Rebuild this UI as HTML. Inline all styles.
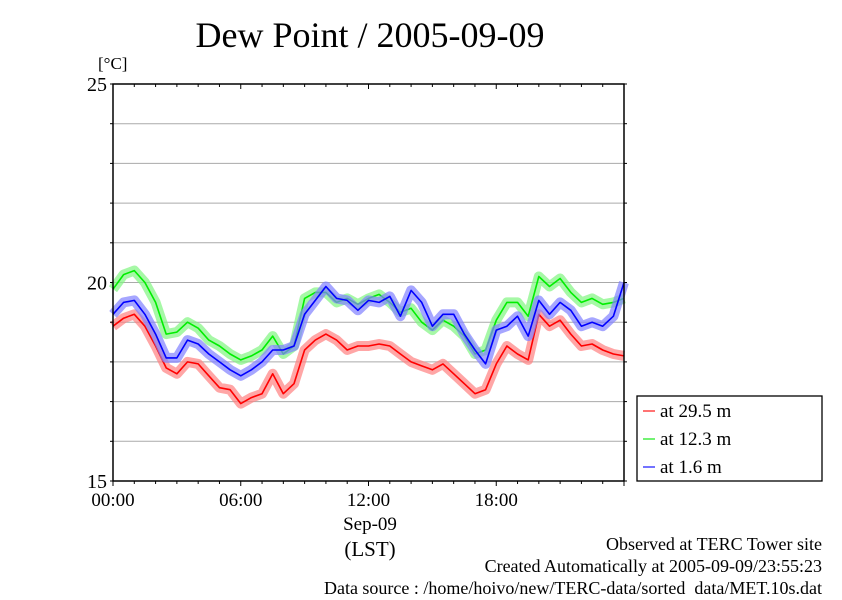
<!DOCTYPE html>
<html><head><meta charset="utf-8"><style>
body{margin:0;background:#fff}
svg text{font-family:"Liberation Serif",serif;fill:#000}
</style></head><body>
<svg id="c" width="842" height="595">
<text x="370" y="47" font-size="36" text-anchor="middle">Dew Point / 2005-09-09</text>
<text x="98" y="69" font-size="17">[°C]</text>
<g id="grid"></g><g id="series"></g><g id="axes"></g>
<text x="370" y="530" font-size="19" text-anchor="middle">Sep-09</text>
<text x="370" y="556" font-size="21" text-anchor="middle">(LST)</text>
<g>
<rect x="637" y="396" width="185" height="85" fill="#fff" stroke="#000" stroke-width="1.3"/>
<line x1="643" y1="411" x2="655" y2="411" stroke="#f44" stroke-width="1.5"/>
<text x="660" y="417" font-size="19">at 29.5 m</text>
<line x1="643" y1="439" x2="655" y2="439" stroke="#4e4" stroke-width="1.5"/>
<text x="660" y="445" font-size="19">at 12.3 m</text>
<line x1="643" y1="467" x2="655" y2="467" stroke="#44f" stroke-width="1.5"/>
<text x="660" y="473" font-size="19">at 1.6 m</text>
</g>
<text x="822" y="550" font-size="18" text-anchor="end">Observed at TERC Tower site</text>
<text x="822" y="572" font-size="18" text-anchor="end">Created Automatically at 2005-09-09/23:55:23</text>
<text x="822" y="594" font-size="18" text-anchor="end">Data source : /home/hoivo/new/TERC-data/sorted_data/MET.10s.dat</text>
</svg>
<script>
const hours=[0,0.5,1,1.5,2,2.5,3,3.5,4,4.5,5,5.5,6,6.5,7,7.5,8,8.5,9,9.5,10,10.5,11,11.5,12,12.5,13,13.5,14,14.5,15,15.5,16,16.5,17,17.5,18,18.5,19,19.5,20,20.5,21,21.5,22,22.5,23,23.5,24];
const red=[18.9,19.1,19.2,18.9,18.4,17.85,17.7,18.0,17.95,17.65,17.35,17.3,16.95,17.1,17.2,17.7,17.2,17.45,18.3,18.55,18.7,18.55,18.3,18.4,18.4,18.45,18.4,18.2,18.0,17.9,17.8,17.95,17.7,17.45,17.2,17.3,17.95,18.4,18.2,18.05,19.2,18.9,19.05,18.7,18.4,18.45,18.3,18.2,18.15];
const green=[19.83,20.2,20.3,20.0,19.5,18.7,18.75,19.0,18.85,18.55,18.4,18.2,18.05,18.15,18.3,18.65,18.2,18.4,19.6,19.75,19.75,19.5,19.6,19.45,19.6,19.7,19.5,19.25,19.35,19.0,18.8,19.05,18.9,18.65,18.2,18.3,19.05,19.5,19.5,19.15,20.15,19.9,20.1,19.75,19.5,19.6,19.45,19.5,19.6];
const blue=[19.2,19.5,19.55,19.2,18.7,18.1,18.1,18.55,18.45,18.2,18.0,17.8,17.65,17.8,18.0,18.3,18.3,18.4,19.2,19.55,19.9,19.6,19.55,19.3,19.55,19.5,19.65,19.15,19.8,19.5,18.9,19.2,19.2,18.7,18.3,17.95,18.8,18.9,19.15,18.65,19.55,19.2,19.5,19.3,18.9,19.0,18.9,19.15,20.0];
const yTicks=[15,20,25];
const xTickLabels=["00:00","06:00","12:00","18:00"];
const X0=113,X1=624,Y0=481,Y1=84;
const xs=h=>X0+h/24*(X1-X0);
const ys=v=>Y0-(v-15)/10*(Y0-Y1);
const NS="http://www.w3.org/2000/svg";
function mk(tag,attrs,parent){const e=document.createElementNS(NS,tag);for(const k in attrs)e.setAttribute(k,attrs[k]);parent.appendChild(e);return e;}
const grid=document.getElementById('grid'),axes=document.getElementById('axes'),ser=document.getElementById('series');
for(let v=16;v<25;v++){const l=mk('line',{x1:X0,x2:X1,y1:ys(v),y2:ys(v),stroke:'#aaa','stroke-width':1},grid);

}
function series(vals,band,line,name){
 const pts=hours.map((h,i)=>xs(h).toFixed(1)+','+ys(vals[i]).toFixed(1)).join(' ');
 const b=mk('polyline',{points:pts,fill:'none',stroke:band,'stroke-width':10,'stroke-linejoin':'round','stroke-opacity':0.7},ser);
 
 
 const l=mk('polyline',{points:pts,fill:'none',stroke:line,'stroke-width':1.6,'stroke-linejoin':'round'},ser);
 
 
}
series(red,'#ff8080','#f00','series-29-5m');
series(green,'#80f580','#0e0','series-12-3m');
series(blue,'#8080ff','#00f','series-1-6m');
const fr=mk('rect',{x:X0,y:Y1,width:X1-X0,height:Y0-Y1,fill:'none',stroke:'#000','stroke-width':1.5},axes);


for(let h=0;h<=24;h++){const len=h%6===0?5:3;
 mk('line',{x1:xs(h),x2:xs(h),y1:Y1,y2:Y1+len,stroke:'#000','stroke-width':1},axes);
 mk('line',{x1:xs(h),x2:xs(h),y1:Y0,y2:Y0+len,stroke:'#000','stroke-width':1},axes);}
for(let v=15;v<=25;v++){mk('line',{x1:X0-3,x2:X0,y1:ys(v),y2:ys(v),stroke:'#000'},axes);mk('line',{x1:X1,x2:X1+3,y1:ys(v),y2:ys(v),stroke:'#000'},axes);}
yTicks.forEach(v=>{const t=mk('text',{x:X0-6,y:ys(v)+7,'font-size':20,'text-anchor':'end'},axes);t.textContent=v;
 
 });
xTickLabels.forEach((s,i)=>{const t=mk('text',{x:xs(i*6),y:506,'font-size':19,'text-anchor':'middle'},axes);t.textContent=s;
 
 });
</script>
</body></html>
